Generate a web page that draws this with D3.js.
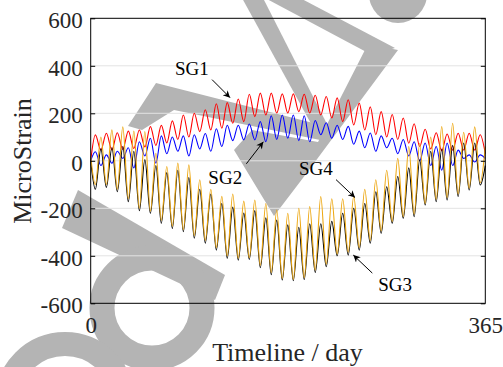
<!DOCTYPE html>
<html>
<head>
<meta charset="utf-8">
<script src="https://cdn.jsdelivr.net/npm/d3@7"></script>
<style>
  body { margin: 0; background: #fff; }
  svg text { font-family: "Liberation Serif", "Times New Roman", serif; }
</style>
</head>
<body>
<svg width="503" height="367"></svg>
<script>
// sample days: start, then alternating crest / trough of the daily-ish cycle
const days = [0, 4.3, 9.4, 14.5, 19.6, 24.6, 29.7, 34.8, 39.9, 45, 50.1, 55.2, 60.3, 65.3, 70.4,
  75.5, 80.6, 85.7, 90.8, 95.8, 100.9, 106, 111.1, 116.2, 121.3, 126.3, 131.4, 136.5, 141.6,
  146.7, 151.8, 156.9, 162, 167, 172.1, 177.2, 182.3, 187.4, 192.5, 197.5, 202.6, 207.7, 212.8,
  217.9, 223, 228, 233.1, 238.2, 243.3, 248.4, 253.5, 258.6, 263.7, 268.7, 273.8, 278.9, 284,
  289.1, 294.2, 299.2, 304.3, 309.4, 314.5, 319.6, 324.7, 329.7, 334.8, 339.9, 345, 350.1,
  355.2, 360.3, 365]

const sg1 = [0, 109, 45, 116, 46, 118, 48, 125, 52, 130, 58, 144, 65, 149, 75, 168, 90, 193, 100,
  200, 123, 215, 130, 240, 137, 245, 158, 260, 165, 280, 186, 285, 193, 285, 201, 282, 201, 282,
  207, 280, 201, 276, 193, 271, 180, 265, 165, 257, 151, 243, 130, 227, 110, 207, 100, 195, 90,
  180, 74, 156, 60, 133, 50, 118, 42, 113, 45, 116, 45, 116, 45, 110, 30]

const sg2 = [0, 38, -20, 25, -10, 40, 10, 55, -30, 80, 20, 95, -10, 105, 30, 100, 40, 105, 20,
  110, 50, 115, 40, 135, 60, 150, 85, 150, 88, 155, 88, 165, 80, 190, 90, 193, 95, 193, 85,
  190, 80, 170, 110, 160, 95, 150, 90, 145, 70, 125, 55, 117, 40, 105, 55, 95, 30, 90, 20,
  80, 0, 75, -20, 60, -40, 75, -20, 45, 10, 25, -5, 25, 10]

const sg3 = [0, -120, 50, -112, 55, -130, 60, -172, 40, -210, 5, -221, -20, -263, -50, -285, -40,
  -298, -70, -326, -120, -347, -140, -376, -180, -410, -195, -418, -220, -415, -210, -450, -240,
  -480, -250, -502, -270, -505, -280, -500, -265, -470, -265, -446, -255, -400, -221, -397, -200,
  -376, -180, -347, -130, -305, -109, -263, -66, -242, -30, -235, 4, -186, 40, -172, 50, -165,
  65, -150, 75, -123, 75, -102, -20]

const sg4 = [20, -100, 100, -100, 130, -120, 143, -160, 125, -200, 123, -212, 32, -250, -24, -275,
  -10, -290, -17, -315, -80, -335, -120, -365, -150, -400, -140, -410, -170, -408, -165, -440,
  -180, -470, -207, -495, -221, -500, -200, -492, -193, -460, -151, -435, -160, -392, -160, -385,
  -150, -365, -120, -335, -80, -295, -40, -255, 10, -235, 60, -225, 74, -180, 100, -162, 144,
  -155, 158, -140, 120, -115, 143, -92, 60]

const seriesNames = ["SG1", "SG2", "SG3", "SG4"]
const seriesValues = [sg1, sg2, sg3, sg4]
const seriesColors = ["#ff0000", "#0000ff", "#000000", "#eda711"]

const yTicks = [-600, -400, -200, 0, 200, 400, 600]
const xTicks = [0, 365]

// arrow notes: tip in data units, tail / text offsets in px
const notes = [
  {label: "SG1", day: 128.9, value: 266, tail: [-18, -18], text: [-55, -23]},
  {label: "SG2", day: 159.7, value: 80, tail: [-17, 22], text: [-55, 42]},
  {label: "SG4", day: 244.5, value: -155, tail: [-19, -18], text: [-56, -23]},
  {label: "SG3", day: 242.9, value: -397, tail: [19, 18], text: [25, 36]}
]

const serif = "'Liberation Serif', 'Times New Roman', serif"
const svg = d3.select("svg")
const plotL = 90.7, plotR = 485.3, plotT = 18.3, plotB = 303.3

const x = d3.scaleLinear().domain([0, 365]).range([plotL, plotR])
const y = d3.scaleLinear().domain([-600, 600]).range([plotB, plotT])

// grey watermark behind the plot
const wm = svg.append("g").attr("fill", "#b4b4b4")
const wmPolys = [
  "M128,126 L156,83 L325,126 L325,141 L174,110 L142,130 Z",
  "M242,-2 L263,-2 L330,130 L320,140 Z",
  "M265,-2 L300,-2 L395,48 L372,55 Z",
  "M368,44 L398,50 L306,174 L274,216 L234,150 L252,130 L318,142 Z",
  "M78,190 L225,275 L215,300 L62,228 Z",
  "M110,367 L116,350 L128,352 L124,367 Z"
]
wm.selectAll("path").data(wmPolys).enter().append("path").attr("d", d => d)
wm.append("circle").attr("cx", 398).attr("cy", -6).attr("r", 29)
wm.append("circle").attr("cx", 152).attr("cy", 308).attr("r", 50)
  .attr("fill", "none").attr("stroke", "#b4b4b4").attr("stroke-width", 25)
wm.append("circle").attr("cx", 65).attr("cy", 402).attr("r", 58)
  .attr("fill", "none").attr("stroke", "#b4b4b4").attr("stroke-width", 24)

// grid
svg.append("g").selectAll("line")
  .data(yTicks.slice(1, -1)).enter().append("line")
  .attr("x1", plotL).attr("x2", plotR)
  .attr("y1", d => y(d)).attr("y2", d => y(d))
  .attr("stroke", "#e3e3e3").attr("stroke-width", 1)

// series
const line = d3.line()
  .x((d, i) => x(days[i]))
  .y(d => y(d))
  .curve(d3.curveMonotoneX)

svg.append("g").selectAll("path")
  .data(seriesValues).enter().append("path")
  .attr("d", d => line(d))
  .attr("fill", "none")
  .attr("stroke", (d, i) => seriesColors[i])
  .attr("stroke-width", 1.1)

// frame and inward ticks
svg.append("rect")
  .attr("x", plotL).attr("y", plotT)
  .attr("width", plotR - plotL).attr("height", plotB - plotT)
  .attr("fill", "none").attr("stroke", "#000").attr("stroke-width", 1)

const gL = svg.append("g").attr("transform", `translate(${plotL},0)`)
  .call(d3.axisLeft(y).tickValues(yTicks).tickSizeInner(-4.5).tickSizeOuter(0).tickFormat(d => d))
gL.attr("font-family", null)
gL.select(".domain").remove()
gL.selectAll("text")
  .attr("x", -8).attr("dy", "0.4em")
  .style("font-family", serif).style("font-size", "23px").attr("fill", "#262626")

const gR = svg.append("g").attr("transform", `translate(${plotR},0)`)
  .call(d3.axisRight(y).tickValues(yTicks).tickSizeInner(-4.5).tickSizeOuter(0).tickFormat(""))
gR.select(".domain").remove()

const gX = svg.append("g").attr("transform", `translate(0,${plotB})`)
  .call(d3.axisBottom(x).tickValues(xTicks).tickSize(0).tickFormat(d => d))
gX.attr("font-family", null)
gX.select(".domain").remove()
gX.selectAll("text")
  .attr("y", 29.5).attr("dy", 0)
  .style("font-family", serif).style("font-size", "23px").attr("fill", "#262626")

// titles
svg.append("text")
  .attr("transform", "translate(31,161) rotate(-90)")
  .attr("text-anchor", "middle")
  .style("font-family", serif).style("font-size", "26px").attr("fill", "#262626")
  .text("MicroStrain")

svg.append("text")
  .attr("x", 287.5).attr("y", 361)
  .attr("text-anchor", "middle")
  .style("font-family", serif).style("font-size", "26px").attr("fill", "#262626")
  .text("Timeline / day")

// arrows
svg.append("defs").append("marker")
  .attr("id", "head")
  .attr("viewBox", "0 0 10 10")
  .attr("refX", 10).attr("refY", 5)
  .attr("markerWidth", 9).attr("markerHeight", 7)
  .attr("markerUnits", "userSpaceOnUse")
  .attr("orient", "auto")
  .append("path").attr("d", "M0,0 L10,5 L0,10 L3,5 Z").attr("fill", "#000")

const ann = svg.append("g")
ann.selectAll("line").data(notes).enter().append("line")
  .attr("x1", d => x(d.day) + d.tail[0]).attr("y1", d => y(d.value) + d.tail[1])
  .attr("x2", d => x(d.day)).attr("y2", d => y(d.value))
  .attr("stroke", "#000").attr("stroke-width", 1)
  .attr("marker-end", "url(#head)")

ann.selectAll("text").data(notes).enter().append("text")
  .attr("x", d => x(d.day) + d.text[0]).attr("y", d => y(d.value) + d.text[1])
  .style("font-family", serif).style("font-size", "19px").attr("fill", "#000")
  .text(d => d.label)
</script>
</body>
</html>
